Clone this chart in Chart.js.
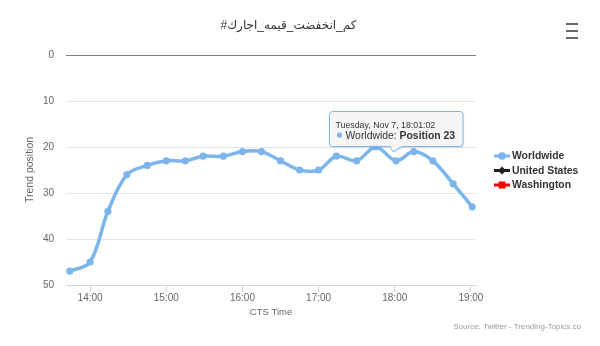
<!DOCTYPE html>
<html>
<head>
<meta charset="utf-8">
<script src="https://cdn.jsdelivr.net/npm/chart.js@4/dist/chart.umd.min.js"></script>
<style>
  html, body { margin: 0; padding: 0; background: #fff; }
  #wrap { width: 600px; height: 346px; position: relative; }
  canvas { display: block; }
</style>
</head>
<body>
<div id="wrap"><canvas id="c" width="600" height="346"></canvas></div>
<script>
// ---- data ----
const chartTitle = '#كم_انخفضت_قيمه_اجارك';
const times = ['13:44','14:00','14:14','14:29','14:45','15:00','15:15','15:29','15:45','16:00','16:15','16:30','16:45','17:00','17:14','17:30','17:45','18:01','18:15','18:30','18:46','19:01'];
const worldwide = [47,45,34,26,24,23,23,22,22,21,21,23,25,25,22,23,20,23,21,23,28,33];
const unitedStates = [];
const washington = [];
const seriesNames = ['Worldwide','United States','Washington'];
const yTicks = [0,10,20,30,40,50];
const xTickLabels = ['14:00','15:00','16:00','17:00','18:00','19:00'];
const xRange = ['13:41','19:04'];
const tooltipIndex = 17;
const tooltipTitle = 'Tuesday, Nov 7, 18:01:02';
const creditText = 'Source: Twitter - Trending-Topics.co';
const yTitle = 'Trend position';
const xTitle = 'CTS Time';

const FONT = '"Liberation Sans", Arial, "DejaVu Sans", sans-serif';
const toH = s => { const [h,m] = s.split(':').map(Number); return h + m/60; };
const fmt = v => { const h = Math.floor(v + 1e-9), m = Math.round((v - h)*60); return String(h).padStart(2,'0') + ':' + String(m).padStart(2,'0'); };

const pts = (arr) => arr.map((v,i) => ({x: toH(times[i]), y: v}));

const markerStyles = ['circle','rectRot','rect'];
const colors = ['#7cb5ec','#222222','#ff0000'];

// ---- plugin: legend, tooltip, menu, credits ----
const extras = {
  id: 'extras',
  afterDraw(chart) {
    const ctx = chart.ctx;
    const area = chart.chartArea;
    ctx.save();
    // tooltip (anchored to the data point)
    const el = chart.getDatasetMeta(0).data[tooltipIndex];
    if (el) {
      const px = el.x, py = el.y;
      const name = chart.data.datasets[0].label + ': ';
      const val = 'Position ' + chart.data.datasets[0].data[tooltipIndex].y;
      ctx.font = '8.8px ' + FONT;
      const wT = ctx.measureText(tooltipTitle).width;
      ctx.font = '10.4px ' + FONT;
      const wN = ctx.measureText(name).width;
      ctx.font = 'bold 10.4px ' + FONT;
      const wV = ctx.measureText(val).width;
      const w = Math.max(wT, 10 + wN + wV) + 14;
      const h = 35;
      const bx = Math.round(px - w/2) + 0.5, by = Math.round(py - 15 - h) + 0.5;
      const r = 3;
      ctx.beginPath();
      ctx.moveTo(bx + r, by);
      ctx.lineTo(bx + w - r, by);
      ctx.quadraticCurveTo(bx + w, by, bx + w, by + r);
      ctx.lineTo(bx + w, by + h - r);
      ctx.quadraticCurveTo(bx + w, by + h, bx + w - r, by + h);
      ctx.lineTo(px + 6, by + h);
      ctx.lineTo(px - 3, py - 9);
      ctx.lineTo(px - 6, by + h);
      ctx.lineTo(bx + r, by + h);
      ctx.quadraticCurveTo(bx, by + h, bx, by + h - r);
      ctx.lineTo(bx, by + r);
      ctx.quadraticCurveTo(bx, by, bx + r, by);
      ctx.closePath();
      ctx.shadowColor = 'rgba(0,0,0,0.12)';
      ctx.shadowOffsetX = 1; ctx.shadowOffsetY = 1; ctx.shadowBlur = 3;
      ctx.fillStyle = 'rgba(247,247,247,0.88)';
      ctx.fill();
      ctx.shadowColor = 'transparent';
      ctx.strokeStyle = colors[0];
      ctx.lineWidth = 1;
      ctx.stroke();
      ctx.fillStyle = '#333';
      ctx.textBaseline = 'alphabetic';
      ctx.textAlign = 'left';
      ctx.font = '8.8px ' + FONT;
      ctx.fillText(tooltipTitle, bx + 6, by + 16);
      ctx.beginPath();
      ctx.fillStyle = colors[0];
      ctx.arc(bx + 10, by + 23.5, 2.6, 0, Math.PI*2);
      ctx.fill();
      ctx.fillStyle = '#333';
      ctx.font = '10.4px ' + FONT;
      ctx.fillText(name, bx + 16, by + 27);
      ctx.font = 'bold 10.4px ' + FONT;
      ctx.fillText(val, bx + 16 + wN, by + 27);
    }
    // legend
    const lx = area.right + 18;
    chart.data.datasets.forEach((ds, i) => {
      const cy = 156 + i*14.5;
      ctx.strokeStyle = ds.borderColor;
      ctx.lineWidth = 3;
      ctx.beginPath();
      ctx.moveTo(lx, cy); ctx.lineTo(lx + 16, cy); ctx.stroke();
      ctx.fillStyle = ds.borderColor;
      const mx = lx + 8;
      ctx.beginPath();
      if (ds.pointStyle === 'circle') ctx.arc(mx, cy, 3.8, 0, Math.PI*2);
      else if (ds.pointStyle === 'rectRot') { ctx.moveTo(mx, cy-4); ctx.lineTo(mx+4, cy); ctx.lineTo(mx, cy+4); ctx.lineTo(mx-4, cy); ctx.closePath(); }
      else ctx.rect(mx - 3.5, cy - 3.5, 7, 7);
      ctx.fill();
      ctx.fillStyle = '#333';
      ctx.font = 'bold 10.4px ' + FONT;
      ctx.textBaseline = 'middle';
      ctx.fillText(ds.label, lx + 18, cy + 0.5);
    });
    // menu icon
    ctx.fillStyle = '#666';
    for (let k = 0; k < 3; k++) ctx.fillRect(566, 23 + k*7, 12, 2);
    // credits
    ctx.fillStyle = '#999';
    ctx.font = '8px ' + FONT;
    ctx.textAlign = 'right';
    ctx.textBaseline = 'alphabetic';
    ctx.fillText(creditText, 581, 329);
    ctx.restore();
  }
};

const datasets = [worldwide, unitedStates, washington].map((arr, i) => ({
  label: seriesNames[i],
  data: pts(arr),
  borderColor: colors[i],
  backgroundColor: colors[i],
  pointStyle: markerStyles[i],
  borderWidth: 3.5,
  pointRadius: 3.6,
  pointBorderWidth: 0,
  pointHoverRadius: 3.6,
  tension: 0.35,
  fill: false
}));

new Chart(document.getElementById('c'), {
  type: 'line',
  data: { datasets },
  plugins: [extras],
  options: {
    responsive: false,
    animation: false,
    devicePixelRatio: 1,
    events: [],
    layout: { padding: { left: 0, right: 23, top: 0, bottom: 28 } },
    plugins: {
      legend: { display: false },
      tooltip: { enabled: false },
      title: {
        display: true,
        text: chartTitle,
        color: '#333',
        font: { family: FONT, size: 12, weight: 'normal' },
        padding: { top: 18, bottom: 22.6 }
      }
    },
    scales: {
      x: {
        type: 'linear',
        min: toH(xRange[0]),
        max: toH(xRange[1]),
        afterFit: s => { s.height = 33; },
        afterBuildTicks: s => { s.ticks = xTickLabels.map(t => ({value: toH(t)})); },
        ticks: { includeBounds: false, color: '#666', font: { family: FONT, size: 10 }, padding: 0, maxRotation: 0, callback: v => fmt(v) },
        grid: { drawOnChartArea: false, drawTicks: true, tickLength: 7, color: '#ccd6eb' },
        border: { display: true, color: '#ccd6eb' },
        title: { display: true, text: xTitle, color: '#666', font: { family: FONT, size: 9.5 }, padding: { top: 0, bottom: 0 } }
      },
      y: {
        reverse: true,
        min: yTicks[0],
        max: yTicks[yTicks.length - 1],
        afterFit: s => { s.width = 66; },
        afterBuildTicks: s => { s.ticks = yTicks.map(v => ({value: v})); },
        ticks: { color: '#666', font: { family: FONT, size: 10 }, padding: 12 },
        grid: { drawTicks: false, color: c => c.tick && c.tick.value === 0 ? '#808080' : (c.tick && c.tick.value === 50 ? '#ccd6eb' : '#e6e6e6') },
        border: { display: false },
        title: { display: true, text: yTitle, color: '#666', font: { family: FONT, size: 10.5 }, padding: { top: 23.7, bottom: 0 } }
      },
      yR: {
        position: 'right',
        afterFit: s => { s.width = 101; },
        ticks: { display: false },
        grid: { display: false },
        border: { display: false }
      }
    }
  }
});
</script>
</body>
</html>
